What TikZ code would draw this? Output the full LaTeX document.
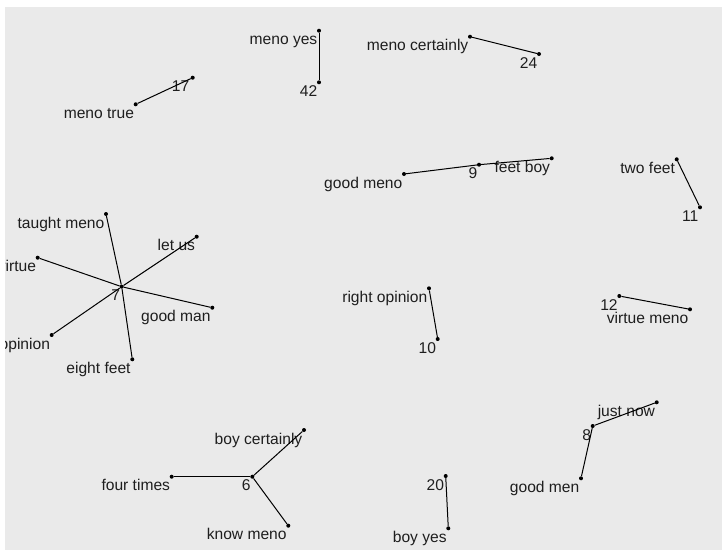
\documentclass[tikz,border=0pt]{standalone}
\usepackage{fontspec}
\setmainfont{Liberation Sans}
\definecolor{panel}{RGB}{234,234,234}
\definecolor{txt}{RGB}{30,30,30}
\tikzset{
  dot/.style={circle, fill=black, inner sep=0pt, minimum size=4pt},
  lbl/.style={anchor=base east, inner sep=0pt, text=txt, font=\fontsize{15.6}{18}\selectfont},
  link/.style={draw=black, line width=1pt},
}
\begin{document}
\begin{tikzpicture}[x=1pt,y=-1pt]
\useasboundingbox (0,0) rectangle (722,550);
\fill[white] (0,0) rectangle (722,550);
\fill[panel] (5,7) rectangle (722,550);
\begin{scope}
\clip (5,7) rectangle (722,550);
% group 42
\node[dot] (dmy) at (319,30.7) {};
\node[dot] (d42) at (319,82.3) {};
\node[lbl] (tmy) at (317.5,44.7) {meno yes};
\node[lbl] (t42) at (317.5,96.3) {42};
% group 24
\node[dot] (dmc) at (470,36.7) {};
\node[dot] (d24) at (539,54) {};
\node[lbl] (tmc) at (468.5,50.7) {meno certainly};
\node[lbl] (t24) at (537.5,68) {24};
% group 17
\node[dot] (dmt) at (135.7,104.3) {};
\node[dot] (d17) at (192.7,77.7) {};
\node[lbl] (tmt) at (134.2,118.3) {meno true};
\node[lbl] (t17) at (189.5,91.7) {17};
% group 9
\node[dot] (dgm) at (404,174) {};
\node[dot] (d9) at (479,164.7) {};
\node[dot] (dfb) at (551.7,158.3) {};
\node[lbl] (tgm) at (402.5,188) {good meno};
\node[lbl] (t9) at (477.5,178.7) {9};
\node[lbl] (tfb) at (550.2,172.3) {feet boy};
% group 11
\node[dot] (dtf) at (676.7,159.3) {};
\node[dot] (d11) at (700,207.3) {};
\node[lbl] (ttf) at (675.2,173.3) {two feet};
\node[lbl] (t11) at (698.5,221.3) {11};
% group 7
\node[dot] (d7) at (121.7,286.7) {};
\node[dot] (dtm) at (106,214) {};
\node[dot] (dlu) at (196.7,236.7) {};
\node[dot] (dv) at (37.7,257.7) {};
\node[dot] (dgman) at (212.3,307.7) {};
\node[dot] (dop) at (51.7,335) {};
\node[dot] (def) at (132.3,359.3) {};
\node[lbl] (t7) at (120.2,300.7) {7};
\node[lbl] (ttm) at (104.5,228) {taught meno};
\node[lbl] (tlu) at (195.2,250.7) {let us};
\node[lbl] (tv) at (36.2,271.7) {virtue};
\node[lbl] (tgman) at (210.8,321.7) {good man};
\node[lbl] (top) at (50.2,349) {opinion};
\node[lbl] (tef) at (130.8,373.3) {eight feet};
% group 10
\node[dot] (dro) at (429,288.3) {};
\node[dot] (d10) at (437.7,339) {};
\node[lbl] (tro) at (427.5,302.3) {right opinion};
\node[lbl] (t10) at (436.2,353) {10};
% group 12
\node[dot] (d12) at (619.3,296) {};
\node[dot] (dvm) at (690,309.3) {};
\node[lbl] (t12) at (617.8,310) {12};
\node[lbl] (tvm) at (688.5,323.3) {virtue meno};
% group 8
\node[dot] (djn) at (656.7,402.3) {};
\node[dot] (d8) at (592.7,426) {};
\node[dot] (dgmen) at (581,478.3) {};
\node[lbl] (tjn) at (655.2,416.3) {just now};
\node[lbl] (t8) at (591.2,440) {8};
\node[lbl] (tgmen) at (579.5,492.3) {good men};
% group 6
\node[dot] (d6) at (252.3,476.7) {};
\node[dot] (dbc) at (304,430) {};
\node[dot] (dft) at (171.7,476.7) {};
\node[dot] (dkm) at (288.3,525.7) {};
\node[lbl] (t6) at (250.8,490.7) {6};
\node[lbl] (tbc) at (302.5,444) {boy certainly};
\node[lbl] (tft) at (170.2,490.7) {four times};
\node[lbl] (tkm) at (286.8,539.7) {know meno};
% group 20
\node[dot] (d20) at (445.7,476) {};
\node[dot] (dby) at (448.3,528.3) {};
\node[lbl] (t20) at (444.2,490) {20};
\node[lbl] (tby) at (446.8,542.3) {boy yes};
% connectors
\draw[link] (dmy) -- (d42);
\draw[link] (dmc) -- (d24);
\draw[link] (dmt) -- (d17);
\draw[link] (dgm) -- (d9);
\draw[link] (d9) -- (dfb);
\draw[link] (dtf) -- (d11);
\foreach \e in {dtm,dlu,dv,dgman,dop,def} \draw[link] (d7) -- (\e);
\draw[link] (dro) -- (d10);
\draw[link] (d12) -- (dvm);
\draw[link] (djn) -- (d8);
\draw[link] (d8) -- (dgmen);
\foreach \e in {dbc,dft,dkm} \draw[link] (d6) -- (\e);
\draw[link] (d20) -- (dby);
\end{scope}
\end{tikzpicture}
\end{document}
